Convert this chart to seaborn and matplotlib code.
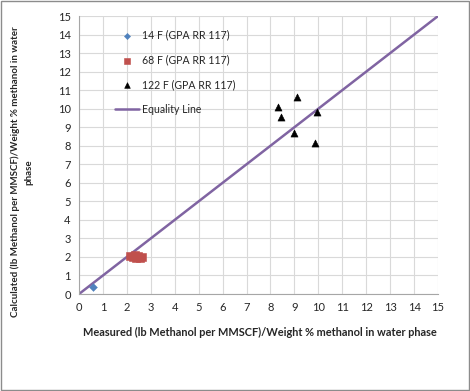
import matplotlib
matplotlib.use("Agg")
import matplotlib.pyplot as plt
import seaborn as sns
import pandas as pd

# ----------------------------------
# Data
# ----------------------------------

x_14f = [0.6]
y_14f = [0.4]

x_68f = [2.15, 2.25, 2.35, 2.4, 2.45, 2.55, 2.65]
y_68f = [2.05, 2.0, 2.1, 1.97, 2.05, 1.95, 2.0]

x_122f = [8.3, 8.43, 8.98, 9.12, 9.86, 9.93]
y_122f = [10.08, 9.57, 8.67, 10.65, 8.13, 9.81]

eq_x = [0, 15]
eq_y = [0, 15]

ticks = list(range(0, 16))

# ----------------------------------
# Figure
# ----------------------------------

sns.set_style("white")
plt.rcParams["font.family"] = ["Lato", "DejaVu Sans"]

fig = plt.figure(figsize=(4.7, 3.91), dpi=100)
ax = fig.add_axes([0.168, 0.248, 0.764, 0.711])

# outer border
fig.patches.append(plt.Rectangle((0.002, 0.002), 0.996, 0.996,
                                 transform=fig.transFigure, fill=False,
                                 edgecolor="#8c8c8c", linewidth=1.0))

df14 = pd.DataFrame({"x": x_14f, "y": y_14f})
df68 = pd.DataFrame({"x": x_68f, "y": y_68f})
df122 = pd.DataFrame({"x": x_122f, "y": y_122f})

sns.scatterplot(data=df14, x="x", y="y", ax=ax, marker="D", s=16,
                color="#4F81BD", edgecolor="#4F81BD",
                label="14 F (GPA RR 117)", zorder=3)
sns.scatterplot(data=df68, x="x", y="y", ax=ax, marker="s", s=26,
                color="#C0504D", edgecolor="#C0504D",
                label="68 F (GPA RR 117)", zorder=3)
sns.scatterplot(data=df122, x="x", y="y", ax=ax, marker="^", s=26,
                color="black", edgecolor="black",
                label="122 F (GPA RR 117)", zorder=3)
sns.lineplot(x=eq_x, y=eq_y, ax=ax, color="#8064A2", linewidth=1.8,
             label="Equality Line", zorder=2)

ax.set_xlim(0, 15)
ax.set_ylim(0, 15)
ax.set_xticks(ticks)
ax.set_yticks(ticks)
ax.tick_params(labelsize=8, length=0, pad=6)
ax.grid(True, color="#d9d9d9", linewidth=0.8)
ax.set_axisbelow(True)

for side in ["top", "right"]:
    ax.spines[side].set_visible(False)
for side in ["left", "bottom"]:
    ax.spines[side].set_color("#a6a6a6")
    ax.spines[side].set_linewidth(0.8)

ax.set_xlabel("Measured (lb Methanol per MMSCF)/Weight % methanol in water phase",
              fontsize=7.9, fontweight="bold")
ax.xaxis.set_label_coords(0.505, -0.12)
ax.set_ylabel("Calculated (lb Methanol per MMSCF)/Weight % methanol in water\nphase",
              fontsize=7.0, fontweight="bold", linespacing=1.6)
ax.yaxis.set_label_coords(-0.128, 0.44)

ax.legend(loc="upper left", bbox_to_anchor=(0.075, 0.985), frameon=False,
          fontsize=7.6, handlelength=2.2, handletextpad=0.3,
          labelspacing=1.3, markerscale=0.8)

fig.savefig("out.png", dpi=100)
